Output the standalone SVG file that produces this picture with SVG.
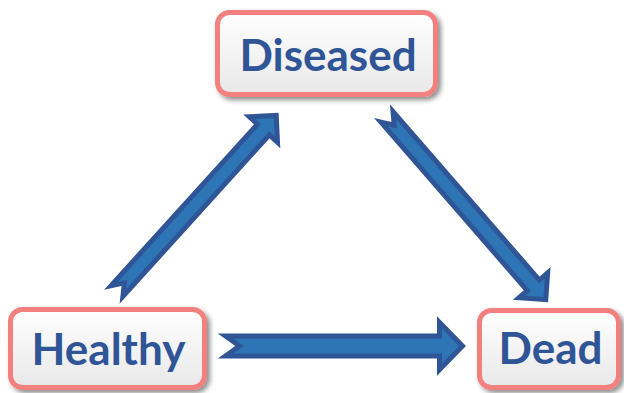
<svg xmlns="http://www.w3.org/2000/svg" width="624" height="393" viewBox="0 0 624 393">
<defs>
<linearGradient id="boxfill" x1="0" y1="0" x2="0" y2="1">
<stop offset="0" stop-color="#FFFFFF"/>
<stop offset="1" stop-color="#E8E8E8"/>
</linearGradient>
<filter id="shadow" x="-10%" y="-10%" width="125%" height="130%">
<feDropShadow dx="3" dy="3" stdDeviation="2.5" flood-color="#000" flood-opacity="0.45"/>
</filter>
</defs>
<style>
.box{fill:url(#boxfill);stroke:#F2807F;stroke-width:5;filter:url(#shadow)}
.lbl{font-family:Lato,"Open Sans","Liberation Sans",sans-serif;font-weight:bold;font-size:44px;fill:#2F5597;text-anchor:middle}
.arr{fill:#2E75B6;stroke:#2F5597;stroke-width:5;stroke-linejoin:miter}
</style>
<g id="connectors">
<path class="arr" transform="translate(117,291) rotate(-47.8)" d="M0,-8 L218,-8 L218,-19 L237,0 L218,19 L218,8 L0,8 L11,0 Z"/>
<path class="arr" transform="translate(387,117) rotate(49)" d="M0,-8 L223,-8 L223,-19 L242,0 L223,19 L223,8 L0,8 L11,0 Z"/>
<path class="arr" transform="translate(225.5,346)" d="M0,-10 L214,-10 L214,-23.5 L237,0 L214,23.5 L214,10 L0,10 L14,0 Z"/>
</g>
<g id="diseased">
<rect class="box" x="217.5" y="12.5" width="218" height="82" rx="12"/>
<text class="lbl" x="328" y="71">Diseased</text>
</g>
<g id="healthy">
<rect class="box" x="10.5" y="309.5" width="194" height="78" rx="12"/>
<text class="lbl" x="108.5" y="365">Healthy</text>
</g>
<g id="dead">
<rect class="box" x="479.5" y="310.5" width="139" height="77" rx="12"/>
<text class="lbl" x="550.5" y="364">Dead</text>
</g>
</svg>
